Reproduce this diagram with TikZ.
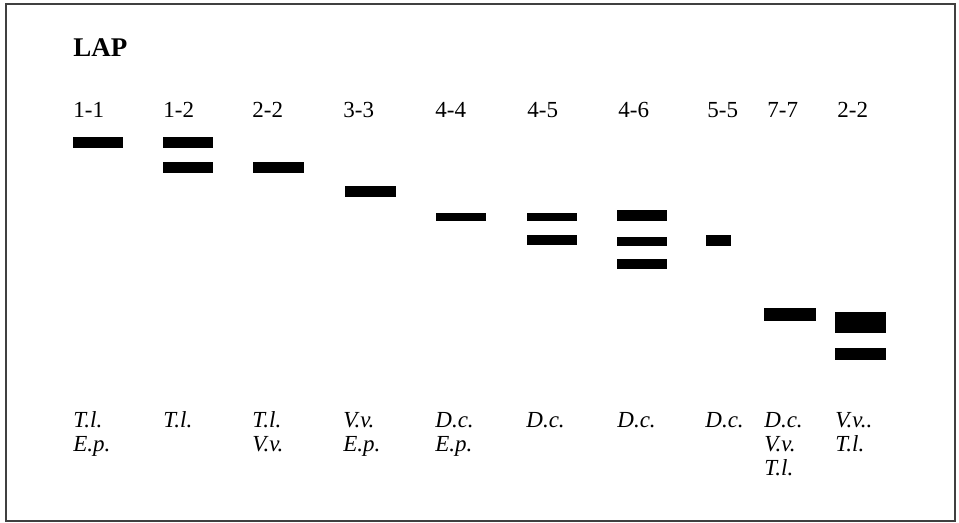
\documentclass[tikz,border=0pt]{standalone}
\usepackage{fontspec}
\setmainfont{Liberation Serif}

\begin{document}
\begin{tikzpicture}[x=0.5pt, y=-0.5pt, every node/.style={font=\fontsize{11.5}{12}\selectfont, inner sep=0pt}, lane/.style={anchor=base west}, host/.style={anchor=base west, align=left, font=\fontsize{11.5}{12}\selectfont\itshape}]
	\useasboundingbox (0,0) rectangle (959,523);
	\draw[line width=1pt, black!75] (6,4) rectangle (955,521);
	\node[anchor=base west, font=\fontsize{13.5}{14}\selectfont\bfseries] (lap) at (73,57) {LAP};
	\foreach \x/\t [count=\i] in {73/1-1, 163/1-2, 252/2-2, 343/3-3, 435/4-4, 527/4-5, 618/4-6, 707/5-5, 767/7-7, 837/2-2} {\node[lane] (code\i) at (\x,118) {\t};}
	\foreach \x/\y/\w/\h in {73/137/50/11, 163/137/50/11, 163/162/50/11, 253/162/51/11, 345/186/51/11, 436/213/50/8, 527/213/50/8, 527/235/50/10, 617/210/50/11, 617/237/50/9, 617/259/50/10, 706/235/25/11, 764/308/52/13, 835/312/51/21, 835/348/51/12} {\fill (\x,\y) rectangle ++(\w,\h);}
	% base anchor sits on the last line, so push down by the extra lines
	\foreach \x/\n/\t [count=\i] in {73/1/{T.l.\\E.p.}, 163/0/{T.l.}, 252/1/{T.l.\\V.v.}, 343/1/{V.v.\\E.p.}, 435/1/{D.c.\\E.p.}, 526/0/{D.c.}, 617/0/{D.c.}, 705/0/{D.c.}, 764/2/{D.c.\\V.v.\\T.l.}, 835/1/{V.v..\\T.l.}} {\node[host] (host\i) at (\x,{428+24*\n}) {\t};}
\end{tikzpicture}
\end{document}
